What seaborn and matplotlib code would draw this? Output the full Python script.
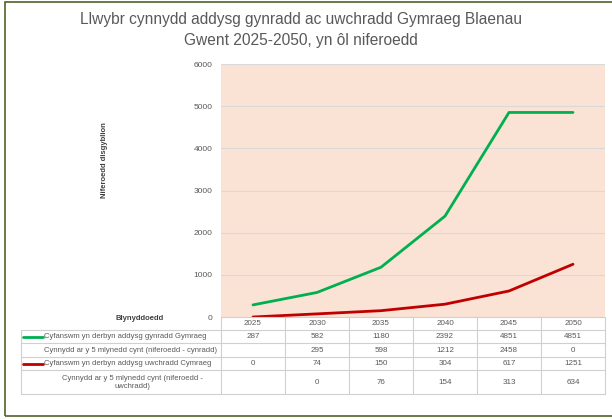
import matplotlib
matplotlib.use("Agg")
import matplotlib.pyplot as plt
import seaborn as sns
import pandas as pd
from matplotlib.patches import Rectangle
from matplotlib.lines import Line2D

years = ["2025", "2030", "2035", "2040", "2045", "2050"]
cynradd = [287, 582, 1180, 2392, 4851, 4851]
cynnydd_cynradd = ["", "295", "598", "1212", "2458", "0"]
uwchradd = [0, 74, 150, 304, 617, 1251]
cynnydd_uwchradd = ["", "0", "76", "154", "313", "634"]

row_labels = [
    "Cyfanswm yn derbyn addysg gynradd Gymraeg",
    "Cynnydd ar y 5 mlynedd cynt (niferoedd - cynradd)",
    "Cyfanswm yn derbyn addysg uwchradd Cymraeg",
    "Cynnydd ar y 5 mlynedd cynt (niferoedd -\nuwchradd)",
]

green = "#00B050"
red = "#C00000"
grey_txt = "#595959"
grid_c = "#D9D9D9"

sns.set_style("white")
plt.rcParams["font.family"] = ["Liberation Sans", "DejaVu Sans"]

W, H = 612, 419
fig = plt.figure(figsize=(W / 100, H / 100), dpi=100)

def fx(px):
    return px / W

def fy(py):
    return 1 - py / H

# plot area in pixels
x0, x1, y0, y1 = 221, 605, 64, 317
ax = fig.add_axes([fx(x0), fy(y1), fx(x1 - x0), (y1 - y0) / H])
ax.set_facecolor("#FAE2D5")

df = pd.DataFrame({
    "year": years * 2,
    "value": cynradd + uwchradd,
    "series": ["cynradd"] * 6 + ["uwchradd"] * 6,
})
sns.lineplot(data=df, x="year", y="value", hue="series",
             palette={"cynradd": green, "uwchradd": red},
             linewidth=2.0, legend=False, ax=ax, sort=False)

ax.set_xlim(-0.5, 5.5)
ax.set_ylim(0, 6000)
ax.set_yticks(range(0, 6001, 1000))
ax.set_yticklabels([str(v) for v in range(0, 6001, 1000)], fontsize=6, color=grey_txt)
ax.set_xticks([])
ax.set_xlabel("")
ax.set_ylabel("")
ax.tick_params(axis="y", length=0, pad=6)
for v in range(1000, 6001, 1000):
    ax.axhline(v, color=grid_c, linewidth=0.8, zorder=0)
for s in ax.spines.values():
    s.set_visible(False)

fig.text(fx(105), fy(160), "Niferoedd disgyblion", rotation=90, fontsize=5.5,
         fontweight="bold", color="#404040", ha="center", va="center")

fig.text(fx(301), fy(30), "Llwybr cynnydd addysg gynradd ac uwchradd Gymraeg Blaenau\nGwent 2025-2050, yn ôl niferoedd",
         ha="center", va="center", fontsize=11.2, color=grey_txt, linespacing=1.55)

# data table
lx0 = 21
rows_y = [317, 330, 343, 357, 370, 394]
col_w = (x1 - x0) / 6
tcolor = "#D0D0D0"

def hline(y, xa, xb):
    fig.add_artist(Line2D([fx(xa), fx(xb)], [fy(y), fy(y)], color=tcolor, linewidth=0.8))

def vline(x, ya, yb):
    fig.add_artist(Line2D([fx(x), fx(x)], [fy(ya), fy(yb)], color=tcolor, linewidth=0.8))

hline(rows_y[0], x0, x1)
for y in rows_y[1:]:
    hline(y, lx0, x1)
vline(lx0, rows_y[1], rows_y[-1])
for i in range(7):
    vline(x0 + i * col_w, rows_y[0], rows_y[-1])

for i, yr in enumerate(years):
    fig.text(fx(x0 + (i + 0.5) * col_w), fy((rows_y[0] + rows_y[1]) / 2), yr,
             ha="center", va="center", fontsize=5.8, color=grey_txt)

fig.text(fx(140), fy(318), "Blynyddoedd", ha="center", va="center", fontsize=5.5,
         fontweight="bold", color="#404040")

table_rows = [[str(v) for v in cynradd], cynnydd_cynradd,
              [str(v) for v in uwchradd], cynnydd_uwchradd]
for r, vals in enumerate(table_rows):
    yc = (rows_y[r + 1] + rows_y[r + 2]) / 2
    for i, v in enumerate(vals):
        fig.text(fx(x0 + (i + 0.5) * col_w), fy(yc), v, ha="center", va="center",
                 fontsize=5.8, color=grey_txt)
    if r in (0, 2):
        fig.add_artist(Line2D([fx(23), fx(43)], [fy(yc), fy(yc)],
                              color=green if r == 0 else red, linewidth=2.0))
        fig.text(fx(44), fy(yc), row_labels[r], ha="left", va="center",
                 fontsize=5.5, color=grey_txt)
    else:
        fig.text(fx(131 if r == 1 else 132), fy(yc), row_labels[r], ha="center", va="center",
                 fontsize=5.5, color=grey_txt, linespacing=1.2)

# outer frame
fig.add_artist(Rectangle((fx(5), fy(416)), fx(620 - 5), (416 - 2) / H, fill=False,
                         edgecolor="#4F6228", linewidth=1.2))

fig.savefig("out.png", dpi=100)
